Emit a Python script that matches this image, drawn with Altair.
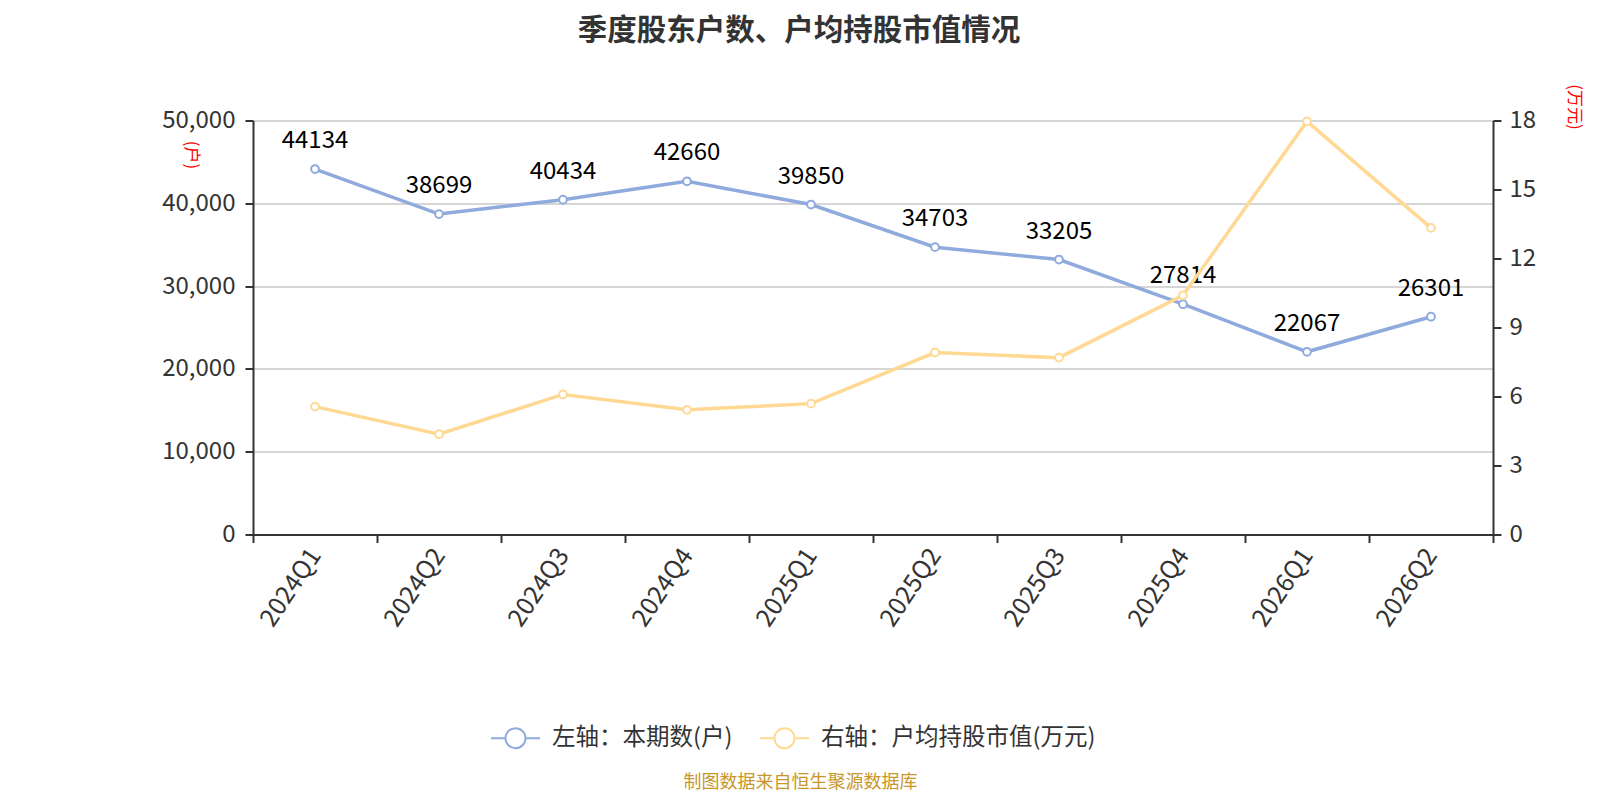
import altair as alt
import pandas as pd

quarters = ["2024Q1", "2024Q2", "2024Q3", "2024Q4", "2025Q1",
            "2025Q2", "2025Q3", "2025Q4", "2026Q1", "2026Q2"]
holders = [44134, 38699, 40434, 42660, 39850, 34703, 33205, 27814, 22067, 26301]
avg_value = [5.56, 4.36, 6.09, 5.42, 5.69, 7.91, 7.69, 10.40, 17.96, 13.33]

s_left = "左轴：本期数(户)"
s_right = "右轴：户均持股市值(万元)"
blue = "#8FAADC"
yellow = "#FFD993"
font = "Noto Sans CJK SC"

df = pd.DataFrame({"quarter": quarters, "holders": holders, "avg": avg_value})

legend_path = ("M-1,0L-0.41,0M0.41,0L1,0"
               "M0.41,0A0.41,0.41,0,1,1,-0.41,0A0.41,0.41,0,1,1,0.41,0Z")

x_enc = alt.X(
    "quarter:N", sort=quarters, bandPosition=0.5,
    scale=alt.Scale(type="band", paddingInner=0, paddingOuter=0),
    axis=alt.Axis(
        title="制图数据来自恒生聚源数据库", titleColor="#C8962A", titleFontSize=18,
        titleFontWeight="normal", titleX=547, titleY=248, titleAlign="center",
        titleBaseline="middle", titleFont=font,
        labelAngle=-56, labelAlign="right", labelBaseline="middle",
        labelFontSize=25, labelColor="#333333", labelPadding=8, labelFont=font,
        tickBand="extent", tickSize=8, tickColor="#333333", tickWidth=2,
        domainColor="#333333", domainWidth=2, grid=False,
    ),
)

color_scale = alt.Scale(domain=[s_left, s_right], range=[blue, yellow])
legend = alt.Legend(
    title=None, orient="none", direction="horizontal", legendX=237, legendY=592,
    symbolType=legend_path, symbolSize=2401, symbolStrokeWidth=2,
    symbolFillColor="white", labelFontSize=23.5, labelColor="#333333",
    labelFont=font, labelOffset=11, columnPadding=23, labelLimit=500,
)

y_left = alt.Y(
    "holders:Q", scale=alt.Scale(domain=[0, 50000], nice=False),
    axis=alt.Axis(
        values=[0, 10000, 20000, 30000, 40000, 50000], format=",d",
        title="(户)", titleColor="red", titleFontSize=17, titleFontWeight="normal",
        titleAngle=90, titleX=-63, titleY=34, titleAlign="center",
        titleBaseline="middle", titleFont=font,
        labelFontSize=24, labelColor="#333333", labelPadding=10, labelFont=font,
        tickSize=8, tickColor="#333333", tickWidth=2,
        domainColor="#333333", domainWidth=2,
        grid=True, gridColor="#C8C8C8", gridWidth=1.5,
    ),
)
y_right = alt.Y(
    "avg:Q", scale=alt.Scale(domain=[0, 18], nice=False),
    axis=alt.Axis(
        orient="right", values=[0, 3, 6, 9, 12, 15, 18],
        title="(万元)", titleColor="red", titleFontSize=17, titleFontWeight="normal",
        titleAngle=90, titleX=80, titleY=-14, titleAlign="center",
        titleBaseline="middle", titleFont=font,
        labelFontSize=24, labelColor="#333333", labelPadding=8, labelFont=font,
        tickSize=8, tickColor="#333333", tickWidth=2,
        domainColor="#333333", domainWidth=2, grid=False,
    ),
)

base = alt.Chart(df)

left_line = base.transform_calculate(series=f"'{s_left}'").mark_line(strokeWidth=3.5).encode(
    x=x_enc, y=y_left,
    color=alt.Color("series:N", scale=color_scale, legend=legend),
)
left_pts = base.mark_point(shape="circle", filled=True, size=60, strokeWidth=2,
                           fill="white", stroke=blue, opacity=1).encode(x=x_enc, y=y_left)
left_lbl = base.mark_text(fontSize=24, font=font, color="black", dy=-21,
                          baseline="alphabetic").encode(
    x=x_enc, y=y_left, text=alt.Text("holders:Q", format="d"))

right_line = base.transform_calculate(series=f"'{s_right}'").mark_line(strokeWidth=3.5).encode(
    x=x_enc, y=y_right,
    color=alt.Color("series:N", scale=color_scale, legend=legend),
)
right_pts = base.mark_point(shape="circle", filled=True, size=60, strokeWidth=2,
                            fill="white", stroke=yellow, opacity=1).encode(x=x_enc, y=y_right)

left = alt.layer(left_line, left_pts, left_lbl)
right = alt.layer(right_line, right_pts)

chart = alt.layer(left, right).resolve_scale(y="independent").properties(
    width=1240, height=414,
    autosize=alt.AutoSizeParams(type="none"),
    padding={"left": 245, "top": 112.5, "right": 99, "bottom": 257.5},
    title=alt.TitleParams(
        "季度股东户数、户均持股市值情况", anchor="middle", dx=-74, offset=37,
        fontSize=29.5, fontWeight="bold", color="#333333", font=font,
    ),
).configure_view(stroke=None)

chart.save("out.html", embed_options={"renderer": "svg", "actions": False})
